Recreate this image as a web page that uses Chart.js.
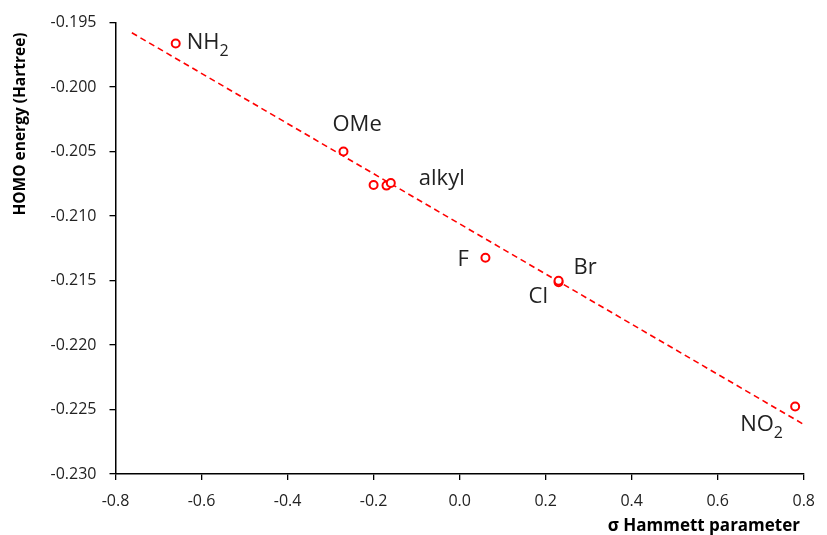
<!DOCTYPE html>
<html>
<head>
<meta charset="utf-8">
<script src="https://cdn.jsdelivr.net/npm/chart.js@4"></script>
<style>
  body { margin: 0; background: #fff; }
  #wrap { width: 827px; height: 535px; }
</style>
</head>
<body>
<div id="wrap"><canvas id="hammettChart"></canvas></div>
<script>
// substituents, Hammett sigma and HOMO energy (Hartree)
var substituents = ['NH2', 'OMe', 'alkyl a', 'alkyl b', 'alkyl c', 'F', 'Cl', 'Br', 'NO2'];
var sigmaValues = [-0.66, -0.27, -0.20, -0.17, -0.16, 0.06, 0.23, 0.23, 0.78];
var homoValues = [-0.19662, -0.20500, -0.20759, -0.20764, -0.20744, -0.21323, -0.21513, -0.21502, -0.22477];

// linear trend line end points
var trendX = [-0.762, 0.797];
var trendY = [-0.19579, -0.22610];

// label text (main, subscript) and the point it belongs to
var labelTexts = [['NH', '2'], ['OMe', ''], ['alkyl', ''], ['F', ''], ['Br', ''], ['Cl', ''], ['NO', '2']];
var labelPoints = [0, 1, 4, 5, 7, 6, 8];
var labelOffsets = [[11, 6], [-11, -21], [28, 2], [-28, 8], [15, -7], [-30, 21], [-55, 24]];

var yTicks = [-0.195, -0.200, -0.205, -0.210, -0.215, -0.220, -0.225, -0.230];

var FONT = '"Open Sans", "Liberation Sans", sans-serif';
var RED = '#ff0000';

var scatterData = sigmaValues.map(function (x, i) { return { x: x, y: homoValues[i] }; });
var trendData = trendX.map(function (x, i) { return { x: x, y: trendY[i] }; });

var labelPlugin = {
    id: 'pointLabels',
    afterDatasetsDraw: function (chart) {
        var ctx = chart.ctx;
        var xs = chart.scales.x, ys = chart.scales.y;
        ctx.save();
        ctx.fillStyle = '#222';
        ctx.textBaseline = 'alphabetic';
        ctx.textAlign = 'left';
        labelTexts.forEach(function (t, i) {
            var p = labelPoints[i];
            var px = xs.getPixelForValue(sigmaValues[p]) + labelOffsets[i][0];
            var py = ys.getPixelForValue(homoValues[p]) + labelOffsets[i][1];
            ctx.font = '22px ' + FONT;
            ctx.fillText(t[0], px, py);
            if (t[1]) {
                var w = ctx.measureText(t[0]).width;
                ctx.font = '16px ' + FONT;
                ctx.fillText(t[1], px + w, py + 7);
            }
        });

        // axis titles
        ctx.fillStyle = '#000';
        ctx.textBaseline = 'middle';
        ctx.font = 'bold 17px ' + FONT;
        ctx.textAlign = 'right';
        ctx.fillText('\u03c3 Hammett parameter', 800, 526);
        ctx.translate(21, 124);
        ctx.rotate(-Math.PI / 2);
        ctx.textAlign = 'center';
        ctx.font = 'bold 15.5px ' + FONT;
        ctx.fillText('HOMO energy (Hartree)', 0, 0);
        ctx.restore();
    }
};

var ctx = document.getElementById('hammettChart').getContext('2d');

var hammettChart = new Chart(ctx, {
    type: 'scatter',
    data: {
        datasets: [{
            label: 'HOMO',
            data: scatterData,
            pointStyle: 'circle',
            pointRadius: 4,
            pointBorderWidth: 2,
            pointBorderColor: RED,
            pointBackgroundColor: '#fff',
            order: 1
        }, {
            label: 'Trend',
            type: 'line',
            data: trendData,
            borderColor: RED,
            borderWidth: 1.6,
            borderDash: [6, 4],
            pointRadius: 0,
            fill: false,
            order: 2
        }]
    },
    options: {
        responsive: true,
        maintainAspectRatio: false,
        animation: false,
        layout: { padding: { top: 19, right: 15.5, left: 0, bottom: 0 } },
        plugins: {
            legend: { display: false },
            tooltip: { enabled: false }
        },
        scales: {
            x: {
                type: 'linear',
                min: -0.8,
                max: 0.8,
                afterFit: function (s) { s.height = 61; },
                border: { color: '#000', width: 1.5 },
                grid: { drawOnChartArea: false, drawTicks: true, tickLength: 6, color: '#000', lineWidth: 1.3 },
                ticks: {
                    stepSize: 0.2,
                    padding: 12,
                    color: '#222',
                    font: { family: FONT, size: 16 },
                    callback: function (v) { return v.toFixed(1); }
                }
            },
            y: {
                type: 'linear',
                min: -0.230,
                max: -0.195,
                afterFit: function (s) { s.width = 115.5; },
                afterBuildTicks: function (s) {
                    s.ticks = yTicks.map(function (v) { return { value: v }; });
                },
                border: { color: '#000', width: 1.5 },
                grid: { drawOnChartArea: false, drawTicks: true, tickLength: 6, color: '#000', lineWidth: 1.3 },
                ticks: {
                    padding: 13,
                    color: '#222',
                    font: { family: FONT, size: 16 },
                    callback: function (v) { return v.toFixed(3); }
                }
            }
        }
    },
    plugins: [labelPlugin]
});
</script>
</body>
</html>
